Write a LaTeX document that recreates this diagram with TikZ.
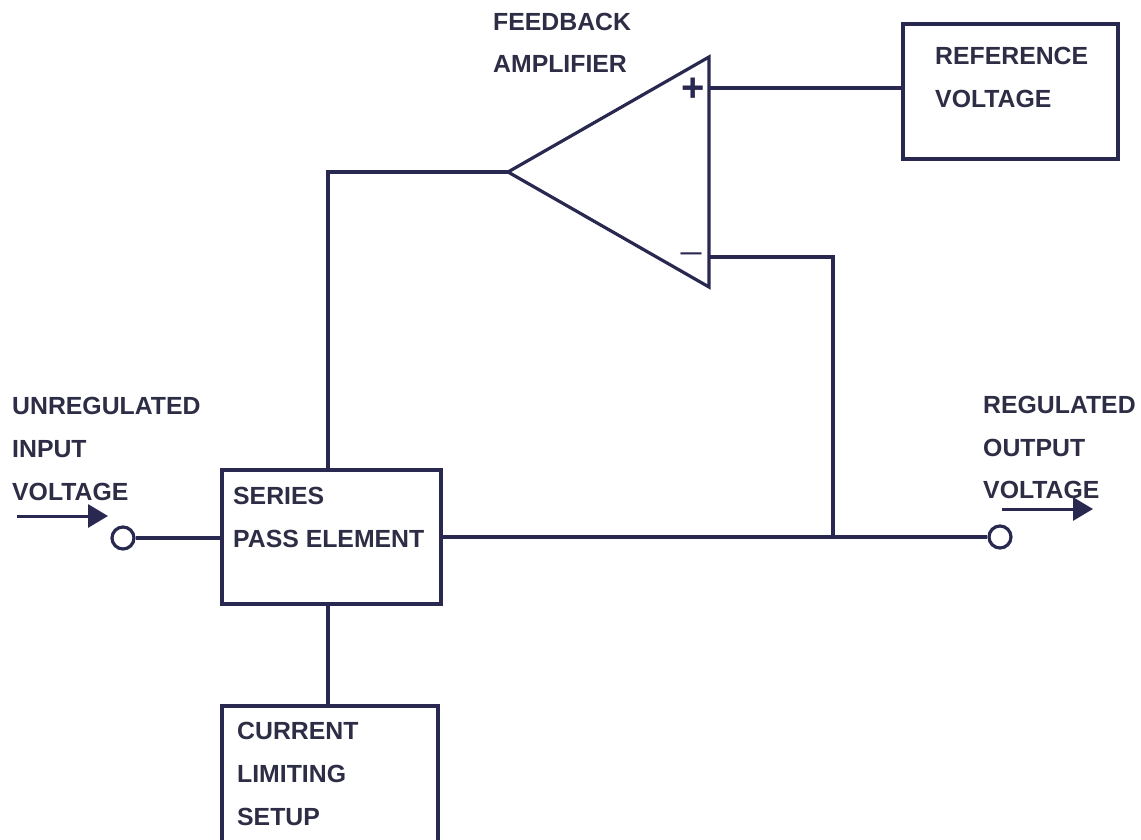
\documentclass[tikz,border=0pt]{standalone}
\usepackage{fontspec}
\setmainfont{Liberation Sans}
\usetikzlibrary{arrows.meta}
\definecolor{ln}{RGB}{40,40,80}
\definecolor{tx}{RGB}{45,45,70}
\begin{document}
\begin{tikzpicture}[x=1pt,y=-1pt,
 wire/.style={draw=ln,line width=3.2pt,line join=miter},
 box/.style={draw=ln,line width=3.2pt,rectangle,inner sep=0pt},
 lbl/.style={text=tx,font=\fontsize{24.8}{25}\selectfont\bfseries,anchor=base west,inner sep=0pt},
 term/.style={circle,draw=ln,line width=3.2pt,minimum size=22pt,inner sep=0pt},
 sig/.style={-{Triangle[length=20pt,width=23pt]},draw=ln,fill=ln,line width=3pt}]
\fill[white] (0,0) rectangle (1141,840);
\useasboundingbox (0,0) rectangle (1141,840);
% boxes
\node[box,minimum width=219pt,minimum height=134pt] (series) at (331.5,537) {};
\node[box,minimum width=216pt,minimum height=146pt] (current) at (330,779) {};
\node[box,minimum width=215pt,minimum height=135pt] (ref) at (1010.5,91.5) {};
% op-amp
\coordinate (oa) at (508,172);
\coordinate (ot) at (709,57);
\coordinate (ob) at (709,287);
\draw[wire] (oa) -- (ot) -- (ob) -- cycle;
\node[text=ln,font=\fontsize{40}{40}\selectfont\bfseries,inner sep=0pt] (plus) at (693,90) {+};
\node[text=ln,font=\fontsize{21}{21}\selectfont\bfseries,inner sep=0pt] (minus) at (691,256) {—};
% terminals
\node[term] (tin) at (123,538) {};
\node[term] (tout) at (1000,537) {};
% wiring
\coordinate (inp) at (709,88);
\coordinate (inm) at (709,257);
\coordinate (jn) at (833,537);
\coordinate (fb) at (328,172);
\draw[wire] (inp) -- (ref.west |- inp);
\draw[wire] (inm) -- (jn |- inm) -- (jn);
\draw[wire] (oa) -- (fb) -- (fb |- series.north);
\draw[wire] (fb |- series.south) -- (fb |- current.north);
\draw[wire] (tin) -- (series.west |- tin);
\draw[wire] (series.east |- tout) -- (tout);
% signal arrows
\coordinate (a1s) at (17,516);
\coordinate (a1e) at (108,516);
\coordinate (a2s) at (1002,509);
\coordinate (a2e) at (1093,509);
\draw[sig] (a1s) -- (a1e);
\draw[sig] (a2s) -- (a2e);
% labels
\node[lbl] (fb1) at (493,31) {FEEDBACK};
\node[lbl] (fb2) at (493,73) {AMPLIFIER};
\node[lbl] (rv1) at (935,65) {REFERENCE};
\node[lbl] (rv2) at (935,108) {VOLTAGE};
\node[lbl] (ui1) at (12,414) {UNREGULATED};
\node[lbl] (ui2) at (12,457) {INPUT};
\node[lbl] (ui3) at (12,500) {VOLTAGE};
\node[lbl] (ro1) at (983,413) {REGULATED};
\node[lbl] (ro2) at (983,456) {OUTPUT};
\node[lbl] (ro3) at (983,498) {VOLTAGE};
\node[lbl] (sp1) at (233,504) {SERIES};
\node[lbl] (sp2) at (233,547) {PASS ELEMENT};
\node[lbl] (cl1) at (237,739) {CURRENT};
\node[lbl] (cl2) at (237,782) {LIMITING};
\node[lbl] (cl3) at (237,825) {SETUP};
\end{tikzpicture}
\end{document}
